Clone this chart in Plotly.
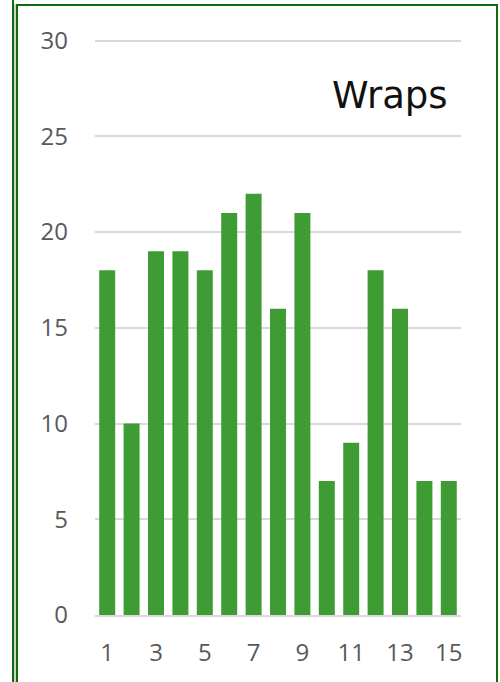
import plotly.graph_objects as go

categories = list(range(1, 16))
wraps = [18, 10, 19, 19, 18, 21, 22, 16, 21, 7, 9, 18, 16, 7, 7]
x_tick_vals = [1, 3, 5, 7, 9, 11, 13, 15]
y_tick_vals = [0, 5, 10, 15, 20, 25, 30]
title_text = "Wraps"

W, H = 500, 682
L, R, T, B = 95, 39, 31, 67
PW, PH = W - L - R, H - T - B
Y_TOP = 30.5


def px(x):
    return (x - L) / PW


def py(y):
    return (H - B - y) / PH


fig = go.Figure()
fig.add_trace(go.Bar(
    x=categories, y=wraps,
    marker=dict(color="#3f9c35", line=dict(width=0)),
    hoverinfo="skip",
))

dark = "#106a10"
light = "#c8d8c8"
shapes = []
# left double border
shapes.append(dict(type="line", xref="paper", yref="paper", x0=px(15), x1=px(15), y0=py(4), y1=py(H + 2),
                   line=dict(color=light, width=2)))
shapes.append(dict(type="line", xref="paper", yref="paper", x0=px(13), x1=px(13), y0=py(-2), y1=py(H + 2),
                   line=dict(color=dark, width=2)))
shapes.append(dict(type="line", xref="paper", yref="paper", x0=px(17), x1=px(17), y0=py(4), y1=py(H + 2),
                   line=dict(color=dark, width=2)))
# top border
shapes.append(dict(type="line", xref="paper", yref="paper", x0=px(16), x1=px(498), y0=py(5), y1=py(5),
                   line=dict(color=dark, width=2)))
# right border
shapes.append(dict(type="line", xref="paper", yref="paper", x0=px(497), x1=px(497), y0=py(4), y1=py(H + 2),
                   line=dict(color=dark, width=2)))

fig.update_layout(
    width=W, height=H,
    margin=dict(l=L, r=R, t=T, b=B, pad=0, autoexpand=False),
    paper_bgcolor="white", plot_bgcolor="white",
    showlegend=False,
    bargap=0.345,
    shapes=shapes,
    annotations=[dict(
        text=title_text, xref="paper", yref="paper",
        x=px(450), y=py(96), xanchor="right", yanchor="middle",
        showarrow=False,
        font=dict(family="DejaVu Sans", size=37, color="#111111"),
    )],
    font=dict(family="Open Sans", size=24, color="#595959"),
)
fig.update_xaxes(
    range=[0.5, 15.5], tickmode="array", tickvals=x_tick_vals,
    ticktext=[str(v) for v in x_tick_vals],
    showgrid=False, zeroline=False, automargin=False,
    showline=True, linecolor="#d9d9d9", linewidth=2,
    ticks="", ticklabelstandoff=15,
    tickfont=dict(family="Open Sans", size=24, color="#595959"),
)
fig.update_yaxes(
    range=[0, Y_TOP], tickmode="array", tickvals=y_tick_vals,
    ticktext=[str(v) for v in y_tick_vals],
    showgrid=True, gridcolor="#d9d9d9", gridwidth=2,
    zeroline=False, showline=False, automargin=False,
    ticks="", ticklabelstandoff=26,
    tickfont=dict(family="Open Sans", size=24, color="#595959"),
)

fig.write_html("out.html")
